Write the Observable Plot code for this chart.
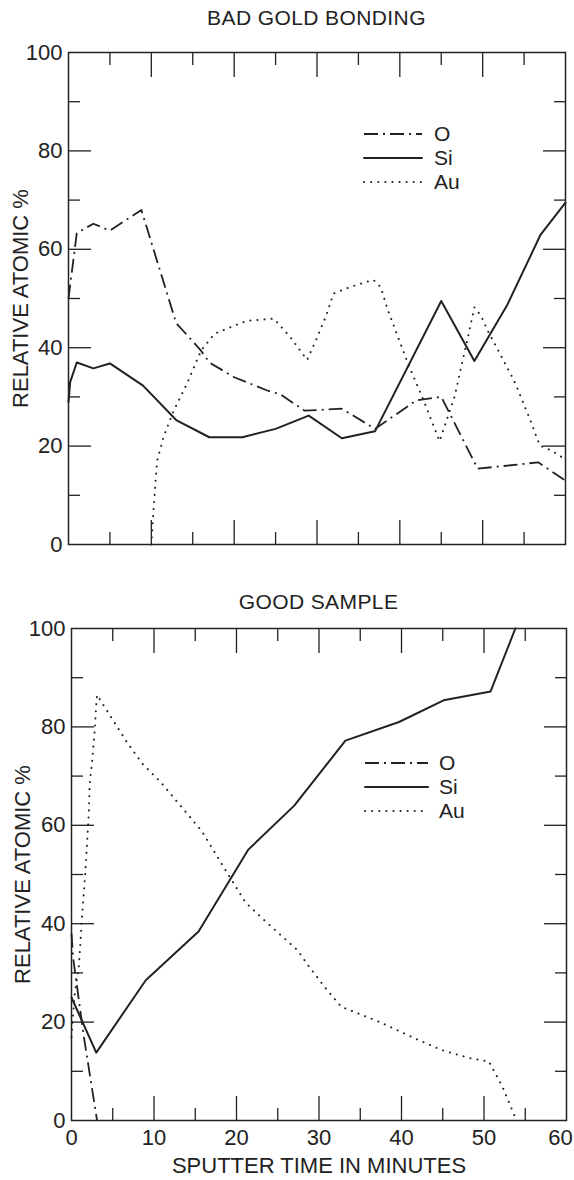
<!DOCTYPE html>
<html>
<head>
<meta charset="utf-8">
<script src="https://cdn.jsdelivr.net/npm/d3@7"></script>
<script src="https://cdn.jsdelivr.net/npm/@observablehq/plot@0.6"></script>
<style>
  html, body { margin: 0; padding: 0; background: #ffffff; }
  body { width: 574px; height: 1180px; position: relative; font-family: "Liberation Sans", Arial, sans-serif; color: #222; overflow: hidden; }
  .title { position: absolute; text-align: center; font-size: 21px; letter-spacing: 0.4px; line-height: 24px; }
  .legend { position: absolute; font-size: 21px; }
  .legend .row { position: absolute; left: 0; white-space: nowrap; display: flex; align-items: center; height: 24px; line-height: 24px; }
  .legend svg { display: block; }
  .legend span { line-height: 24px; display: inline-block; height: 24px; }
  .chart { position: absolute; left: 0; }
</style>
</head>
<body>
<script>
// ---- data: [sputter time (min), relative atomic %] ----
const badO = [[0,50],[0.3,54],[1,63.3],[3,65.2],[5,63.8],[8.8,68],[13,45],[16,39.4],[17,37],[20,34],[24,31.3],[25.6,30.5],[28.5,27.2],[33,27.6],[37,23.5],[42,29.3],[45,30],[49.4,15.4],[56.7,16.7],[60,13]];
const badSi = [[0,29],[0.2,33],[1,37],[3,35.8],[5,36.8],[9,32.3],[13,25.3],[17,21.8],[21,21.8],[25,23.5],[29,26.2],[33,21.6],[37,23],[45,49.5],[49,37.3],[53,48.8],[57,63],[60,69.5]];
const badAu = [[10,0],[10.3,8],[10.7,17],[11.5,22],[12.7,27.2],[14.3,32.7],[16,39.4],[17.6,42.8],[19.6,44.2],[21.6,45.5],[24.8,45.9],[26.8,42.1],[28.8,37.5],[30,42],[31.1,46.5],[32,51],[34.1,52.4],[36.8,53.8],[37.7,52.3],[38.5,47.9],[41,36.7],[42.7,30],[44.8,21],[46.6,30],[48.2,42],[49,48.2],[49.8,46.5],[50.6,43.5],[53.8,33.3],[55.7,25.5],[56.9,20.1],[58.3,19.1],[60,17.3]];

const goodO = [[0,38],[0.2,33],[1.5,17],[3.1,0]];
const goodSi = [[0,25],[3,13.8],[9,28.5],[15.4,38.4],[21.4,55],[27,64],[33.2,77.2],[39.7,81],[45.1,85.4],[50.8,87.2],[53.8,100]];
const goodAu = [[0,17],[0.4,26],[0.9,31.5],[1.3,42],[1.7,51],[2.1,62.6],[2.2,68.4],[2.5,73],[2.8,79],[3,84.5],[3.1,86.5],[5.1,81.2],[6.75,76.8],[8.65,72.4],[10.8,68.8],[15.8,58.8],[18.3,51.9],[21.1,44.3],[23.5,40.5],[27.4,34.6],[28.7,31.5],[30.7,27.1],[32.7,23.1],[37.1,20.2],[42,16.4],[44.9,14.3],[48.2,12.7],[50.6,12],[52.2,7],[53.7,1],[54,0]];

const xMajor = [10, 20, 30, 40, 50];
const xMinor = [5, 15, 25, 35, 45, 55];
const xLabels = [0, 10, 20, 30, 40, 50];
const xLabelsEnd = [60];
const yMajor = [20, 40, 60, 80];
const yMinor = [10, 30, 50, 70, 90];
const yLabels = [0, 20, 40, 60, 80, 100];

const titles = ["BAD GOLD BONDING", "GOOD SAMPLE"];
const legendNames = ["O", "Si", "Au"];
const yTitle = "RELATIVE ATOMIC %";
const xTitle = "SPUTTER TIME IN MINUTES";

// ---- styles ----
const ink = "#222";
const styles = {
  O:  {strokeWidth: 1.8, strokeDasharray: "14,5,2,5", strokeLinecap: "butt"},
  Si: {strokeWidth: 2, strokeDasharray: null, strokeLinecap: "round"},
  Au: {strokeWidth: 2, strokeDasharray: "0.1,7", strokeLinecap: "round"}
};

function chart(series, opts) {
  const marks = [
    Plot.frame({stroke: ink, strokeWidth: 1.5}),
    // inward ticks
    Plot.axisX(xMajor, {anchor: "bottom", tickSize: -24, fill: "none", stroke: ink, strokeWidth: 1.3, label: null}),
    Plot.axisX(xMinor, {anchor: "bottom", tickSize: -12, fill: "none", stroke: ink, strokeWidth: 1.3, label: null}),
    Plot.axisX(xMajor, {anchor: "top", tickSize: -24, fill: "none", stroke: ink, strokeWidth: 1.3, label: null}),
    Plot.axisX(xMinor, {anchor: "top", tickSize: -12, fill: "none", stroke: ink, strokeWidth: 1.3, label: null}),
    Plot.axisY(yMajor, {anchor: "left", tickSize: -23, fill: "none", stroke: ink, strokeWidth: 1.3, label: null}),
    Plot.axisY(yMinor, {anchor: "left", tickSize: -12, fill: "none", stroke: ink, strokeWidth: 1.3, label: null}),
    Plot.axisY(yMajor, {anchor: "right", tickSize: -23, fill: "none", stroke: ink, strokeWidth: 1.3, label: null}),
    Plot.axisY(yMinor, {anchor: "right", tickSize: -12, fill: "none", stroke: ink, strokeWidth: 1.3, label: null}),
    // y labels
    Plot.axisY(yLabels, {anchor: "left", tickSize: 0, tickPadding: 6, fill: ink, label: yTitle, labelArrow: "none", labelAnchor: "center", labelOffset: opts.labelOffsetY})
  ];
  if (opts.xAxis) {
    marks.push(Plot.axisX(xLabels, {anchor: "bottom", tickSize: 0, tickPadding: 9, fill: ink, label: xTitle, labelArrow: "none", labelAnchor: "center", labelOffset: 52}));
    marks.push(Plot.axisX(xLabelsEnd, {anchor: "bottom", tickSize: 0, tickPadding: 9, fill: ink, label: null, dx: -6}));
  }
  for (const [name, data] of series) {
    marks.push(Plot.line(data, {x: d => d[0], y: d => d[1], stroke: ink, strokeLinejoin: "round", ...styles[name]}));
  }
  return Plot.plot({
    width: 574,
    height: opts.height,
    marginLeft: opts.marginLeft,
    marginRight: opts.marginRight,
    marginTop: opts.marginTop,
    marginBottom: opts.marginBottom,
    x: {domain: [0, 60], axis: null},
    y: {domain: [0, 100], axis: null},
    style: {fontFamily: "'Liberation Sans', Arial, sans-serif", fontSize: "22px", color: ink, background: "transparent", overflow: "visible"},
    marks
  });
}

function addTitle(text, top, left, width) {
  const d = document.createElement("div");
  d.className = "title";
  d.style.top = top + "px";
  d.style.left = left + "px";
  d.style.width = width + "px";
  d.textContent = text;
  document.body.appendChild(d);
}

function addLegend(left, top, gap, lineLen, textGap) {
  const lg = document.createElement("div");
  lg.className = "legend";
  lg.style.left = left + "px";
  lg.style.top = top + "px";
  legendNames.forEach((name, i) => {
    const row = document.createElement("div");
    row.className = "row";
    row.style.top = (i * gap) + "px";
    const s = styles[name];
    row.innerHTML = `<svg width="${lineLen + 2}" height="10"><line x1="1" y1="5" x2="${lineLen + 1}" y2="5" stroke="${ink}" stroke-width="${s.strokeWidth}" ${s.strokeDasharray ? `stroke-dasharray="${s.strokeDasharray}"` : ""} stroke-linecap="${s.strokeLinecap}"/></svg><span style="margin-left:${textGap}px">${name}</span>`;
    lg.appendChild(row);
  });
  document.body.appendChild(lg);
}

// top chart
addTitle(titles[0], 6, 68, 497);
const c1 = chart([["O", badO], ["Si", badSi], ["Au", badAu]], {height: 544, marginLeft: 68, marginRight: 9, marginTop: 16, marginBottom: 36, xAxis: false, labelOffsetY: 56});
c1.classList.add("chart"); c1.style.top = "36px";
document.body.appendChild(c1);
addLegend(363, 122, 24, 58, 11);

// bottom chart
addTitle(titles[1], 590, 71, 495);
const c2 = chart([["O", goodO], ["Si", goodSi], ["Au", goodAu]], {height: 556, marginLeft: 71, marginRight: 8, marginTop: 4, marginBottom: 60, xAxis: true, labelOffsetY: 57});
c2.classList.add("chart"); c2.style.top = "624px";
document.body.appendChild(c2);
addLegend(364, 751, 24, 63, 10);
</script>
</body>
</html>
